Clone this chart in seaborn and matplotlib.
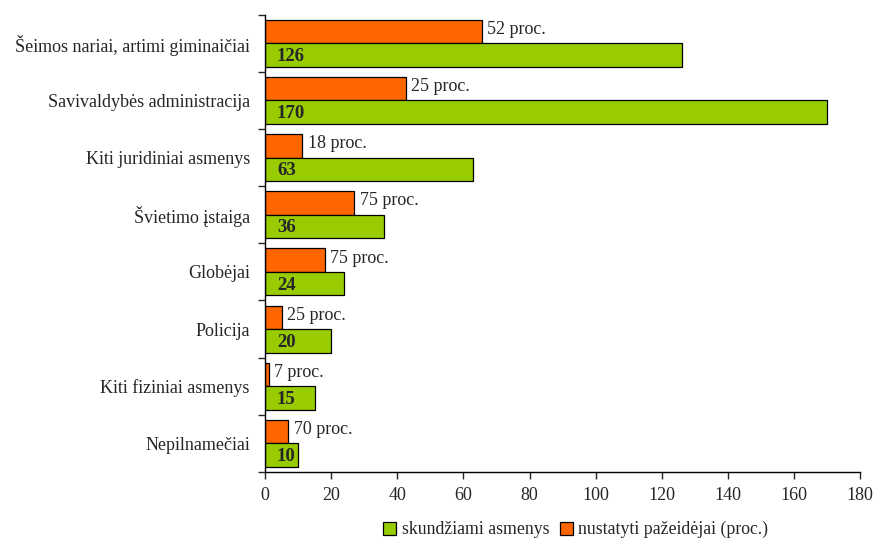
import matplotlib
matplotlib.use('Agg')
from matplotlib import pyplot as plt
from matplotlib.patches import Patch
import seaborn as sns
import pandas as pd

categories = ['Šeimos nariai, artimi giminaičiai', 'Savivaldybės administracija',
              'Kiti juridiniai asmenys', 'Švietimo įstaiga', 'Globėjai', 'Policija',
              'Kiti fiziniai asmenys', 'Nepilnamečiai']
skundziami = [126, 170, 63, 36, 24, 20, 15, 10]
pazeidejai = [65.5, 42.5, 11.3, 27, 18, 5, 1.05, 7]
procentai = [52, 25, 18, 75, 75, 25, 7, 70]

series_green = 'skundžiami asmenys'
series_orange = 'nustatyti pažeidėjai (proc.)'
green = '#99CC00'
orange = '#FF6600'

df = pd.concat([
    pd.DataFrame({'kategorija': categories, 'reiksme': pazeidejai, 'serija': series_orange}),
    pd.DataFrame({'kategorija': categories, 'reiksme': skundziami, 'serija': series_green}),
])

sns.set_style('white')
plt.rcParams['font.family'] = ['Liberation Serif', 'DejaVu Serif']

fig = plt.figure(figsize=(8.75, 5.45), dpi=100)
ax = fig.add_axes([0.303, 0.134, 0.680, 0.839])

sns.barplot(data=df, y='kategorija', x='reiksme', hue='serija', orient='h',
            hue_order=[series_orange, series_green],
            palette={series_orange: orange, series_green: green},
            width=0.82, edgecolor='black', linewidth=0.9, saturation=1,
            legend=False, ax=ax)

ax.set_xlim(0, 180)
ax.set_xticks(range(0, 181, 20))
ax.set_ylim(len(categories) - 0.5, -0.5)
ax.set_yticks([i + 0.5 for i in range(-1, len(categories))], minor=False)
ax.set_yticklabels([])
ax.set_yticks(range(len(categories)), minor=True)
ax.set_yticklabels(categories, minor=True)
ax.tick_params(axis='y', which='minor', length=0, pad=11, labelsize=13)
ax.tick_params(axis='y', which='major', length=5, width=1, direction='out', left=True)
ax.tick_params(axis='x', length=5, width=1, direction='out', bottom=True, labelsize=13, pad=6)
ax.set_xlabel('')
ax.set_ylabel('')
sns.despine(ax=ax, top=True, right=True)
for s in ['left', 'bottom']:
    ax.spines[s].set_color('black')
    ax.spines[s].set_linewidth(1)

# etiketes
orange_bars = ax.containers[0]
green_bars = ax.containers[1]
for bar, p in zip(orange_bars, procentai):
    ax.annotate(f'{p} proc.', (bar.get_width(), bar.get_y() + bar.get_height() / 2),
                xytext=(4, 1.5), textcoords='offset points', ha='left', va='center',
                fontsize=13)
for bar, v in zip(green_bars, skundziami):
    ax.annotate(f'{v}', (0, bar.get_y() + bar.get_height() / 2),
                xytext=(8.5, -1), textcoords='offset points', ha='left', va='center',
                fontsize=13.5, fontweight='bold')

handles = [Patch(facecolor=green, edgecolor='black', linewidth=0.9),
           Patch(facecolor=orange, edgecolor='black', linewidth=0.9)]
fig.legend(handles, [series_green, series_orange], loc='center', bbox_to_anchor=(0.658, 0.028),
           ncol=2, frameon=False, fontsize=12.8, handlelength=0.75, handleheight=0.75,
           handletextpad=0.3, columnspacing=0.6)

fig.savefig('out.png', dpi=100)
